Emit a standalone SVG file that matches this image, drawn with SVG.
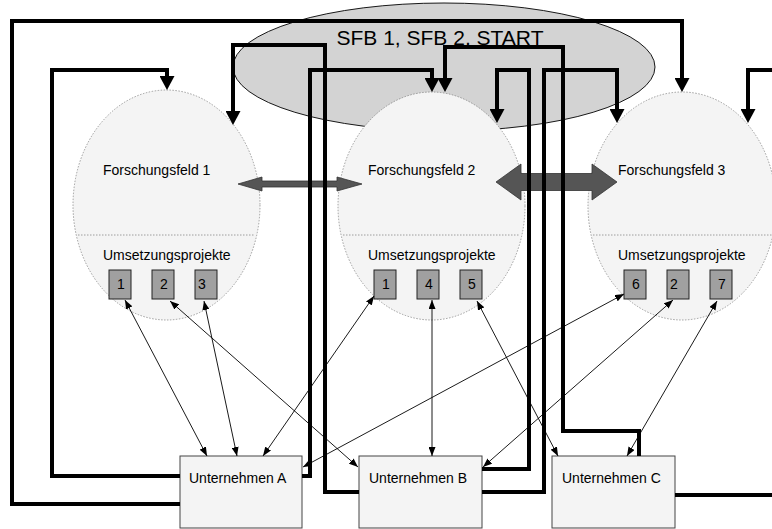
<svg xmlns="http://www.w3.org/2000/svg" width="772" height="529" viewBox="0 0 772 529">
<style>
text{font-family:"Liberation Sans",Arial,sans-serif;fill:#000}
.field{fill:#f4f4f4;stroke:#888;stroke-width:0.8;stroke-dasharray:1.5 1.5}
.sep{stroke:#888;stroke-width:0.8;stroke-dasharray:1.5 1.5;fill:none}
.lbl{font-size:14px}
.proj{fill:#a0a0a0;stroke:#222;stroke-width:1}
.num{font-size:14px;text-anchor:middle}
.firm{fill:#f4f4f4;stroke:#444;stroke-width:1}
.thick{fill:none;stroke:#000;stroke-width:4;marker-end:url(#big)}
.thin{fill:none;stroke:#000;stroke-width:0.9;marker-start:url(#small);marker-end:url(#small)}
.blk{fill:#555;stroke:#333;stroke-width:0.8}
</style>
<defs>
<marker id="big" markerUnits="userSpaceOnUse" viewBox="0 0 14 15" refX="0" refY="7.5" markerWidth="14" markerHeight="15" orient="auto"><path d="M0,0 L14,7.5 L0,15 z" fill="#000"/></marker>
<marker id="small" markerUnits="userSpaceOnUse" viewBox="0 0 9 7" refX="9" refY="3.5" markerWidth="9" markerHeight="7" orient="auto-start-reverse"><path d="M0,0 L9,3.5 L0,7 z" fill="#000"/></marker>
</defs>
<rect width="772" height="529" fill="#fff"/>
<g id="sfb">
<ellipse cx="444" cy="67" rx="211" ry="64" fill="#d3d3d3" stroke="#000" stroke-width="0.9"/>
<text x="440" y="45" font-size="21" text-anchor="middle">SFB 1, SFB 2, START</text>
</g>
<g id="feld1">
<ellipse class="field" cx="166.5" cy="205" rx="93.5" ry="115"/>
<line class="sep" x1="78" y1="235" x2="255" y2="235"/>
<text class="lbl" x="103" y="175">Forschungsfeld 1</text>
<text class="lbl" x="103" y="260">Umsetzungsprojekte</text>
<rect class="proj" x="109" y="270" width="22" height="29"/><text class="num" x="121" y="289">1</text>
<rect class="proj" x="152" y="270" width="22" height="29"/><text class="num" x="164" y="289">2</text>
<rect class="proj" x="195" y="270" width="22" height="29"/><text class="num" x="202" y="289">3</text>
</g>
<g id="feld2">
<ellipse class="field" cx="431.5" cy="206" rx="93.5" ry="114"/>
<line class="sep" x1="343" y1="235" x2="520" y2="235"/>
<text class="lbl" x="368" y="175">Forschungsfeld 2</text>
<text class="lbl" x="368" y="260">Umsetzungsprojekte</text>
<rect class="proj" x="374" y="270" width="22" height="29"/><text class="num" x="386" y="289">1</text>
<rect class="proj" x="417" y="270" width="22" height="29"/><text class="num" x="429" y="289">4</text>
<rect class="proj" x="460" y="270" width="22" height="29"/><text class="num" x="472" y="289">5</text>
</g>
<g id="feld3">
<ellipse class="field" cx="682" cy="206" rx="94" ry="114"/>
<line class="sep" x1="593" y1="235" x2="772" y2="235"/>
<text class="lbl" x="618" y="175">Forschungsfeld 3</text>
<text class="lbl" x="618" y="260">Umsetzungsprojekte</text>
<rect class="proj" x="624" y="270" width="22" height="29"/><text class="num" x="636" y="289">6</text>
<rect class="proj" x="667" y="270" width="22" height="29"/><text class="num" x="674" y="289">2</text>
<rect class="proj" x="710" y="270" width="22" height="29"/><text class="num" x="722" y="289">7</text>
</g>
<g id="firmA"><rect class="firm" x="180" y="456" width="122" height="72"/><text class="lbl" x="189" y="483">Unternehmen A</text></g>
<g id="firmB"><rect class="firm" x="359" y="456" width="123" height="72"/><text class="lbl" x="369" y="483">Unternehmen B</text></g>
<g id="firmC"><rect class="firm" x="552" y="456" width="123" height="72"/><text class="lbl" x="562" y="483">Unternehmen C</text></g>
<g id="connectors">
<path class="blk" d="M238,184 L262,177 L262,181 L337,181 L337,177 L362,184 L337,191 L337,187 L262,187 L262,191 z"/>
<path class="blk" d="M496,182 L521,164 L521,173.5 L592,173.5 L592,164 L617,182 L592,200 L592,190.5 L521,190.5 L521,200 z"/>
<line class="thin" x1="125" y1="300" x2="207" y2="456"/>
<line class="thin" x1="170" y1="301" x2="358" y2="467"/>
<line class="thin" x1="204" y1="301" x2="237" y2="456"/>
<line class="thin" x1="374" y1="296" x2="263" y2="456"/>
<line class="thin" x1="432" y1="300" x2="432" y2="456"/>
<line class="thin" x1="477" y1="301" x2="558" y2="456"/>
<line class="thin" x1="624" y1="294" x2="303" y2="467"/>
<line class="thin" x1="673" y1="300" x2="483" y2="467"/>
<line class="thin" x1="717" y1="301" x2="627" y2="456"/>
<path class="thick" d="M180,504 H12 V21 H682 V78"/>
<path class="thick" d="M180,476 H52 V70 H167 V76"/>
<path class="thick" d="M359,492 H325 V45 H233 V111"/>
<path class="thick" d="M302,476 H310 V70 H432 V78"/>
<path class="thick" d="M482,469 H529 V70 H497 V109"/>
<path class="thick" d="M482,492 H544 V70 H617 V109"/>
<path class="thick" d="M639,456 V431 H563 V47 H445 V78"/>
<path class="thick" d="M675,495 H776" style="marker-end:none"/>
<path class="thick" d="M776,70 H748 V109"/>
</g>
</svg>
